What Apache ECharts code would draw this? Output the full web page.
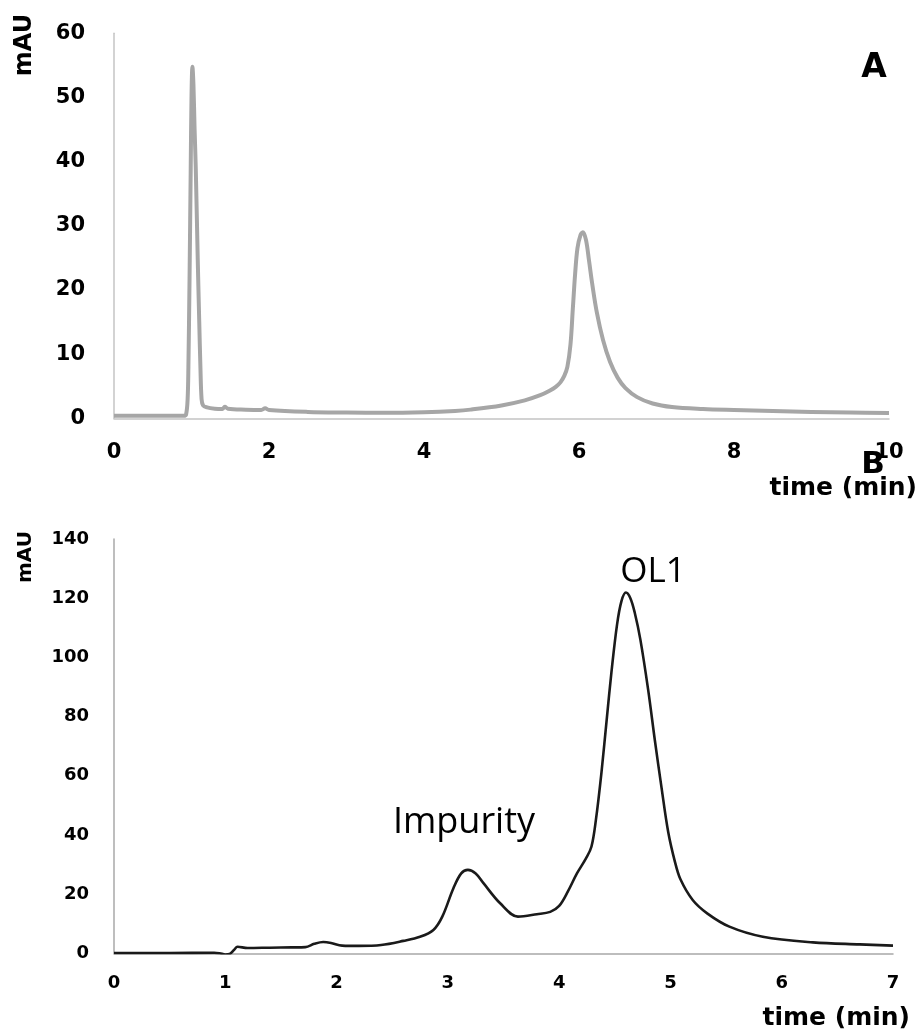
<!DOCTYPE html>
<html>
<head>
<meta charset="utf-8">
<script src="https://cdn.jsdelivr.net/npm/echarts@6/dist/echarts.min.js"></script>
<style>
html,body{margin:0;padding:0;background:#fff;}
#chart{width:921px;height:1032px;}
</style>
</head>
<body>
<div id="chart"></div>
<script>
// ---- Panel A data (time in min, absorbance in mAU) ----
const timeA = [0, 0.3, 0.6, 0.9, 0.93, 0.95, 0.96, 0.975, 0.99, 1.0, 1.012, 1.025, 1.04, 1.055, 1.08, 1.1, 1.115, 1.13, 1.15, 1.2, 1.3, 1.4, 1.43, 1.47, 1.7, 1.9, 1.95, 2.0, 2.5, 3.0, 3.5, 4.0, 4.4, 4.6, 5.0, 5.3, 5.5, 5.62, 5.7, 5.76, 5.81, 5.85, 5.89, 5.92, 5.95, 5.98, 6.02, 6.05, 6.09, 6.13, 6.17, 6.23, 6.31, 6.4, 6.5, 6.6, 6.75, 6.95, 7.2, 7.6, 8.0, 8.5, 9.0, 9.5, 10.0];
const mAU_A = [0.4, 0.4, 0.4, 0.4, 0.6, 3, 8, 22, 39, 50, 54.8, 52, 45, 39, 25, 15, 8, 3, 2.0, 1.7, 1.5, 1.45, 1.8, 1.5, 1.35, 1.3, 1.55, 1.3, 1.0, 0.9, 0.85, 0.95, 1.15, 1.35, 2.0, 2.8, 3.6, 4.3, 4.9, 5.6, 6.6, 8.0, 11.5, 17, 22.5, 26.5, 28.6, 29, 27.8, 24.5, 21, 16.5, 12.2, 8.8, 6.3, 4.7, 3.3, 2.3, 1.75, 1.45, 1.3, 1.15, 1.0, 0.9, 0.82];

// ---- Panel B data ----
const timeB = [0, 0.5, 0.9, 0.95, 1.0, 1.04, 1.08, 1.11, 1.2, 1.4, 1.6, 1.72, 1.8, 1.88, 1.95, 2.05, 2.2, 2.4, 2.6, 2.75, 2.87, 2.95, 3.05, 3.12, 3.18, 3.25, 3.32, 3.47, 3.63, 3.8, 3.92, 4.0, 4.08, 4.16, 4.24, 4.29, 4.33, 4.38, 4.43, 4.47, 4.52, 4.56, 4.6, 4.64, 4.68, 4.73, 4.8, 4.86, 4.92, 4.98, 5.04, 5.09, 5.2, 5.33, 5.53, 5.83, 6.28, 6.7, 7.0];
const mAU_B = [0.1, 0.1, 0.2, 0.0, -0.4, -0.2, 1.2, 2.2, 1.8, 1.9, 2.0, 2.1, 3.2, 3.8, 3.5, 2.6, 2.5, 2.8, 4.2, 5.6, 7.9, 12.4, 22, 27, 28.2, 27, 23.7, 16.9, 12.4, 13.2, 14, 16, 21, 27, 32, 36, 45, 61, 80, 95, 111, 119, 121.9, 120, 115, 106, 89, 72, 56, 41, 31, 25, 18, 13.5, 9, 5.6, 3.7, 3.0, 2.6];

// ---- Axis ticks ----
const xTicksA = [0, 2, 4, 6, 8, 10];
const yTicksA = [0, 10, 20, 30, 40, 50, 60];
const xTicksB = [0, 1, 2, 3, 4, 5, 6, 7];
const yTicksB = [0, 20, 40, 60, 80, 100, 120, 140];

// ---- Labels ----
const yTitle = 'mAU';
const xTitle = 'time (min)';
const panelA = 'A';
const panelB = 'B';
const peakLabels = ['Impurity', 'OL1'];

const pairs = (xs, ys) => xs.map((x, i) => [x, ys[i]]);
const FONT = 'DejaVu Sans';

function valueAxis(gridIndex, ticks, lineColor, fontSize, margin) {
  return {
    type: 'value',
    gridIndex: gridIndex,
    min: ticks[0],
    max: ticks[ticks.length - 1],
    interval: ticks[1] - ticks[0],
    axisLine: { show: true, lineStyle: { color: lineColor, width: 1.5 } },
    axisTick: { show: false },
    splitLine: { show: false },
    axisLabel: { color: '#000', fontFamily: FONT, fontWeight: 'bold', fontSize: fontSize, margin: margin }
  };
}

const chart = echarts.init(document.getElementById('chart'), null, { renderer: 'canvas' });
chart.setOption({
  backgroundColor: '#fff',
  animation: false,
  grid: [
    { left: 114, top: 33.3, width: 775, height: 385 },
    { left: 114, top: 539, width: 779, height: 414.3 }
  ],
  xAxis: [
    valueAxis(0, xTicksA, '#c4c4c4', 21, 24),
    valueAxis(1, xTicksB, '#a8a8a8', 18, 21)
  ],
  yAxis: [
    valueAxis(0, yTicksA, '#c4c4c4', 21, 29),
    valueAxis(1, yTicksB, '#a8a8a8', 18, 25)
  ],
  series: [
    {
      type: 'line', xAxisIndex: 0, yAxisIndex: 0,
      data: pairs(timeA, mAU_A),
      showSymbol: false, smooth: 0.35,
      lineStyle: { color: '#a6a6a6', width: 4, join: 'round' }
    },
    {
      type: 'line', xAxisIndex: 1, yAxisIndex: 1,
      data: pairs(timeB, mAU_B),
      showSymbol: false, smooth: 0.35,
      lineStyle: { color: '#1a1a1a', width: 2.6, join: 'round' }
    }
  ],
  graphic: [
    { type: 'text', x: 25, y: 45, rotation: Math.PI / 2,
      style: { text: yTitle, font: 'bold 24px "DejaVu Sans"', fill: '#000', align: 'center', verticalAlign: 'middle' } },
    { type: 'text', x: 25.5, y: 557, rotation: Math.PI / 2,
      style: { text: yTitle, font: 'bold 20px "DejaVu Sans"', fill: '#000', align: 'center', verticalAlign: 'middle' } },
    { type: 'text', x: 917, y: 488,
      style: { text: xTitle, font: 'bold 25px "DejaVu Sans"', fill: '#000', align: 'right', verticalAlign: 'middle' } },
    { type: 'text', x: 910, y: 1018,
      style: { text: xTitle, font: 'bold 25px "DejaVu Sans"', fill: '#000', align: 'right', verticalAlign: 'middle' } },
    { type: 'text', x: 874, y: 68,
      style: { text: panelA, font: 'bold 33px "DejaVu Sans"', fill: '#000', align: 'center', verticalAlign: 'middle' } },
    { type: 'text', x: 873, y: 465,
      style: { text: panelB, font: 'bold 31px "DejaVu Sans"', fill: '#000', align: 'center', verticalAlign: 'middle' } },
    { type: 'text', x: 464, y: 823,
      style: { text: peakLabels[0], font: '36px "Open Sans"', fill: '#000', align: 'center', verticalAlign: 'middle' } },
    { type: 'text', x: 653, y: 572,
      style: { text: peakLabels[1], font: '35px "Open Sans"', fill: '#000', align: 'center', verticalAlign: 'middle' } }
  ]
});
</script>
</body>
</html>
